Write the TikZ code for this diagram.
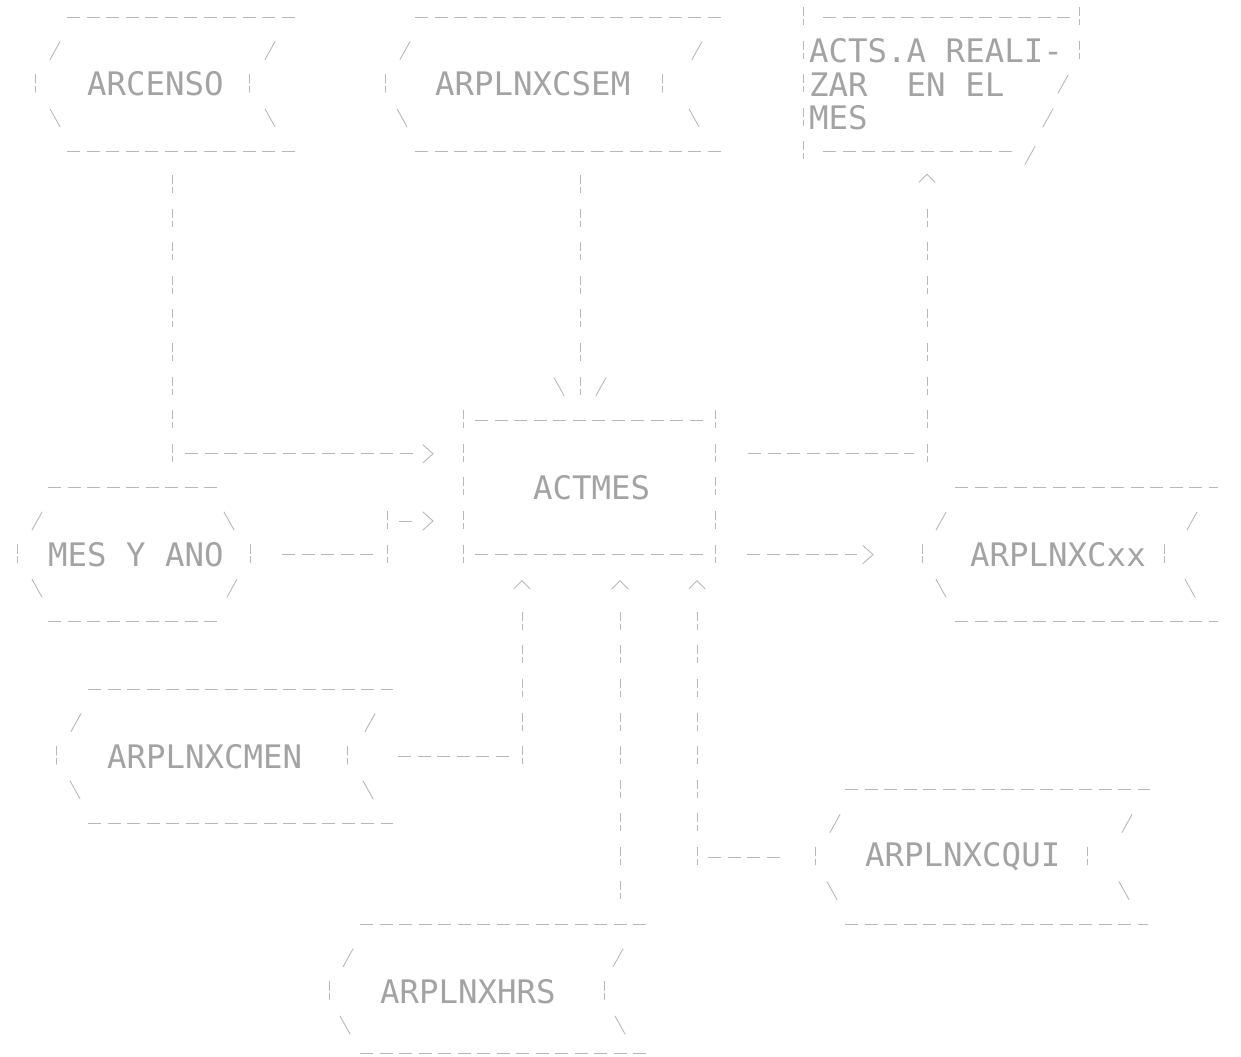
\documentclass[tikz,border=0pt]{standalone}
\usepackage{fontspec}
\newfontfamily\dotfont{DejaVu Sans Mono}
\definecolor{ink}{gray}{0.64}
\definecolor{lin}{gray}{0.72}
\tikzset{
  gl/.style={draw=lin, line width=0.9pt, line cap=round},
  hl/.style={draw=lin, line width=0.9pt, dash pattern=on 13pt off 6.5pt},
  vl/.style={draw=lin, line width=0.9pt, dash pattern=on 9pt off 3pt on 6pt off 15.6pt},
  lbl/.style={text=ink, font=\dotfont\fontsize{32.4}{33.6}\selectfont, inner sep=0pt, anchor=west},
  sl/.pic={\draw[gl] (-5pt,-9pt) -- (5pt,9pt);},
  bs/.pic={\draw[gl] (-5pt,9pt) -- (5pt,-9pt);},
  bar/.pic={\draw[gl] (0pt,10pt) -- (0pt,1pt) (0pt,-2pt) -- (0pt,-8pt);},
  gt/.pic={\draw[gl] (-5pt,9pt) -- (5pt,0pt) -- (-5pt,-9pt);},
  up/.pic={\draw[gl] (-8pt,-4pt) -- (0pt,4pt) -- (8pt,-4pt);},
}
\begin{document}
\begin{tikzpicture}[x=1pt,y=-33.6pt]
\useasboundingbox (0,-0.506) rectangle (1241,30.923);

% ---------- ARCENSO
\node[lbl] (arcenso) at (87,2) {ARCENSO};
\draw[hl] (67,0) -- (297,0);
\draw[hl] (67,4) -- (297,4);
\pic at (55,1) {sl}; \pic at (270,1) {sl};
\pic at (35,2) {bar}; \pic at (249,2) {bar};
\pic at (55,3) {bs}; \pic at (270,3) {bs};

% ---------- ARPLNXCSEM
\node[lbl] (csem) at (435,2) {ARPLNXCSEM};
\draw[hl] (415,0) -- (725,0);
\draw[hl] (415,4) -- (725,4);
\pic at (405,1) {sl}; \pic at (697,1) {sl};
\pic at (385,2) {bar}; \pic at (662,2) {bar};
\pic at (402,3) {bs}; \pic at (694,3) {bs};

% ---------- ACTS. A REALIZAR EN EL MES
\node[lbl] (acts) at (809,1) {ACTS.A REALI-};
\node[lbl] (acts2) at (809,2) {ZAR\ \ EN EL};
\node[lbl] (acts3) at (809,3) {MES};
\draw[vl] (803,-0.2976) -- (803,4.24);
\draw[vl] (1079,-0.2976) -- (1079,1.24);
\draw[hl] (823,0) -- (1075,0);
\draw[hl] (823,4) -- (1017,4);
\pic at (1063,2) {sl}; \pic at (1048,3) {sl}; \pic at (1030,4.12) {sl};

% ---------- ACTMES
\node[lbl] (actmes) at (533,14) {ACTMES};
\draw[vl] (463,11.7024) -- (463,16.24);
\draw[vl] (715,11.7024) -- (715,16.24);
\draw[hl] (475,12) -- (705,12);
\draw[hl] (475,16) -- (705,16);

% ---------- MES Y ANO
\node[lbl] (mes) at (48,16) {MES Y ANO};
\draw[hl] (48,14) -- (222,14);
\draw[hl] (48,18) -- (222,18);
\pic at (37,15) {sl}; \pic at (229,15) {bs};
\pic at (17,16) {bar}; \pic at (250,16) {bar};
\pic at (37,17) {bs}; \pic at (232,17) {sl};

% ---------- ARPLNXCxx
\node[lbl] (cxx) at (970,16) {ARPLNXCxx};
\draw[hl] (955,14) -- (1218,14);
\draw[hl] (955,18) -- (1218,18);
\pic at (941,15) {sl}; \pic at (1192,15) {sl};
\pic at (922,16) {bar}; \pic at (1164,16) {bar};
\pic at (941,17) {bs}; \pic at (1190,17) {bs};

% ---------- ARPLNXCMEN
\node[lbl] (cmen) at (107,22) {ARPLNXCMEN};
\draw[hl] (88,20) -- (393,20);
\draw[hl] (88,24) -- (393,24);
\pic at (76,21) {sl}; \pic at (370,21) {sl};
\pic at (56,22) {bar}; \pic at (347,22) {bar};
\pic at (75,23) {bs}; \pic at (368,23) {bs};

% ---------- ARPLNXCQUI
\node[lbl] (qui) at (865,25) {ARPLNXCQUI};
\draw[hl] (845,23) -- (1150,23);
\draw[hl] (845,27) -- (1148,27);
\pic at (835,24) {sl}; \pic at (1127,24) {sl};
\pic at (815,25) {bar}; \pic at (1087,25) {bar};
\pic at (832,26) {bs}; \pic at (1124,26) {bs};

% ---------- ARPLNXHRS
\node[lbl] (hrs) at (380,29) {ARPLNXHRS};
\draw[hl] (360,27) -- (648,27);
\draw[hl] (360,30.85) -- (648,30.85);
\pic at (348,28) {sl}; \pic at (618,28) {sl};
\pic at (329,29) {bar}; \pic at (604,29) {bar};
\pic at (345,30) {bs}; \pic at (620,30) {bs};

% ---------- connectors
% ARCENSO -> ACTMES
\coordinate (a1) at (172,4.7024);
\coordinate (a2) at (172,13.24);
\coordinate (a3) at (185,13);
\coordinate (a4) at (414,13);
\draw[vl] (a1) -- (a2);
\draw[hl] (a3) -- (a4);
\pic at (428,13) {gt};

% ARPLNXCSEM -> ACTMES
\coordinate (b1) at (580,4.7024);
\coordinate (b2) at (580,11.24);
\draw[vl] (b1) -- (b2);
\pic at (559,11) {bs}; \pic at (601,11) {sl};

% ACTMES -> ACTS
\coordinate (c1) at (927,5.7024);
\coordinate (c2) at (927,13.24);
\coordinate (c3) at (748,13);
\coordinate (c4) at (914,13);
\pic at (927,4.8) {up};
\draw[vl] (c1) -- (c2);
\draw[hl] (c3) -- (c4);

% MES Y ANO -> ACTMES
\coordinate (d1) at (282,16);
\coordinate (d2) at (376,16);
\coordinate (d3) at (387,14.7024);
\coordinate (d4) at (387,16.24);
\coordinate (d5) at (399,15);
\coordinate (d6) at (414,15);
\draw[hl] (d1) -- (d2);
\draw[vl] (d3) -- (d4);
\draw[hl] (d5) -- (d6);
\pic at (428,15) {gt};

% ACTMES -> ARPLNXCxx
\coordinate (e1) at (747,16);
\coordinate (e2) at (857,16);
\draw[hl] (e1) -- (e2);
\pic at (868,16) {gt};

% ARPLNXCMEN -> ACTMES
\coordinate (f1) at (522,17.7024);
\coordinate (f2) at (522,22.24);
\coordinate (f3) at (398,22);
\coordinate (f4) at (510,22);
\pic at (522,16.9) {up};
\draw[vl] (f1) -- (f2);
\draw[hl] (f3) -- (f4);

% ARPLNXHRS -> ACTMES
\coordinate (g1) at (620,17.7024);
\coordinate (g2) at (620,26.24);
\pic at (620,16.9) {up};
\draw[vl] (g1) -- (g2);

% ARPLNXCQUI -> ACTMES
\coordinate (h1) at (697,17.7024);
\coordinate (h2) at (697,25.24);
\coordinate (h3) at (708,25);
\coordinate (h4) at (782,25);
\pic at (697,16.9) {up};
\draw[vl] (h1) -- (h2);
\draw[hl] (h3) -- (h4);
\end{tikzpicture}
\end{document}
